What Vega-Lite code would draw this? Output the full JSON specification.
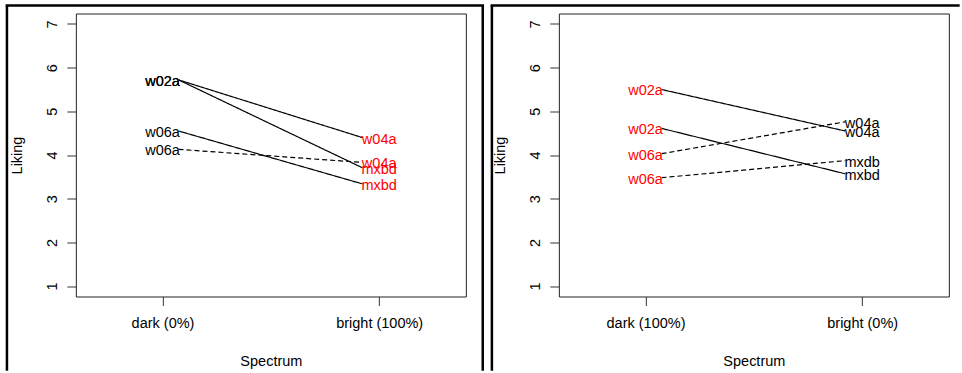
{
  "$schema": "https://vega.github.io/schema/vega-lite/v6.json",
  "padding": {"left": 3.85, "top": 3.5, "right": 0, "bottom": 0},
  "autosize": {"type": "pad"},
  "spacing": 3,
  "config": {
    "font": "Liberation Sans",
    "view": {"stroke": "#222222", "strokeWidth": 1},
    "axis": {
      "tickSize": 9,
      "tickColor": "#333333",
      "tickWidth": 1,
      "domain": false,
      "grid": false,
      "labelFontSize": 14.5,
      "labelColor": "#000000",
      "labelFlush": false,
      "labelOverlap": false,
      "titleFontSize": 14.5,
      "titleFontWeight": "normal",
      "titleColor": "#000000"
    }
  },
  "datasets": {
    "rows": [
      {"panel": "A", "pair": "A1", "grp": "g1", "level": "dark", "pct": "0%", "label": "w02a", "liking": 5.72},
      {"panel": "A", "pair": "A1", "grp": "g1", "level": "bright", "pct": "100%", "label": "w04a", "liking": 4.40},
      {"panel": "A", "pair": "A2", "grp": "g1", "level": "dark", "pct": "0%", "label": "w02a", "liking": 5.72},
      {"panel": "A", "pair": "A2", "grp": "g1", "level": "bright", "pct": "100%", "label": "mxbd", "liking": 3.71},
      {"panel": "A", "pair": "A3", "grp": "g1", "level": "dark", "pct": "0%", "label": "w06a", "liking": 4.55},
      {"panel": "A", "pair": "A3", "grp": "g1", "level": "bright", "pct": "100%", "label": "mxbd", "liking": 3.34},
      {"panel": "A", "pair": "A4", "grp": "g2", "level": "dark", "pct": "0%", "label": "w06a", "liking": 4.13},
      {"panel": "A", "pair": "A4", "grp": "g2", "level": "bright", "pct": "100%", "label": "w04a", "liking": 3.83},
      {"panel": "B", "pair": "B1", "grp": "g1", "level": "dark", "pct": "100%", "label": "w02a", "liking": 5.50},
      {"panel": "B", "pair": "B1", "grp": "g1", "level": "bright", "pct": "0%", "label": "w04a", "liking": 4.55},
      {"panel": "B", "pair": "B2", "grp": "g1", "level": "dark", "pct": "100%", "label": "w02a", "liking": 4.61},
      {"panel": "B", "pair": "B2", "grp": "g1", "level": "bright", "pct": "0%", "label": "mxbd", "liking": 3.57},
      {"panel": "B", "pair": "B3", "grp": "g2", "level": "dark", "pct": "100%", "label": "w06a", "liking": 4.03},
      {"panel": "B", "pair": "B3", "grp": "g2", "level": "bright", "pct": "0%", "label": "w04a", "liking": 4.76},
      {"panel": "B", "pair": "B4", "grp": "g2", "level": "dark", "pct": "100%", "label": "w06a", "liking": 3.48},
      {"panel": "B", "pair": "B4", "grp": "g2", "level": "bright", "pct": "0%", "label": "mxdb", "liking": 3.87}
    ]
  },
  "hconcat": [
    {
      "width": 390,
      "height": 283,
      "resolve": {"scale": {"x": "independent"}, "axis": {"x": "independent"}},
      "layer": [
        {
          "data": {"name": "rows"},
          "transform": [{"filter": "datum.panel === 'A'"}],
          "encoding": {
            "x": {
              "field": "level", "type": "ordinal",
              "scale": {"type": "point", "domain": ["dark", "bright"], "padding": 0.4},
              "axis": {"title": "Spectrum", "labelExpr": "datum.value == 'dark' ? 'dark (0%)' : 'bright (100%)'", "labelAngle": 0, "labelPadding": 11, "labelBaseline": "top", "titlePadding": 25}
            },
            "y": {
              "field": "liking", "type": "quantitative",
              "scale": {"domain": [0.76, 7.24], "nice": false, "zero": false},
              "axis": {"values": [1, 2, 3, 4, 5, 6, 7], "title": "Liking", "format": "d", "labelAngle": 270, "labelAlign": "center", "labelBaseline": "middle", "labelPadding": 14, "titlePadding": 20}
            }
          },
          "layer": [
            {
              "mark": {"type": "line", "color": "#000000", "strokeWidth": 1.2},
              "encoding": {
                "xOffset": {"field": "level", "type": "nominal", "scale": {"type": "point", "domain": ["dark", "bright"], "range": [16, -17], "padding": 0}},
                "detail": {"field": "pair"},
                "strokeDash": {"field": "grp", "type": "nominal", "scale": {"domain": ["g1", "g2"], "range": [[1, 0], [5, 3]]}, "legend": null}
              }
            },
            {
              "mark": {"type": "text", "fontSize": 14.5, "baseline": "middle", "align": "center", "dy": 2},
              "encoding": {
                "text": {"field": "label"},
                "color": {"field": "pct", "type": "nominal", "scale": {"domain": ["0%", "100%"], "range": ["#000000", "#ff0000"]}, "legend": null}
              }
            }
          ]
        },
        {
          "data": {"values": [{}]},
          "mark": {"type": "rule", "clip": false, "color": "#000000", "strokeWidth": 2.5},
          "encoding": {
            "x": {"datum": 0.282, "scale": {"domain": [0.6, 2.4], "nice": false, "zero": false}, "axis": null},
            "y": {"datum": 7.423},
            "y2": {"datum": -0.94}
          }
        },
        {
          "data": {"values": [{}]},
          "mark": {"type": "rule", "clip": false, "color": "#000000", "strokeWidth": 2.5},
          "encoding": {
            "x": {"datum": 2.478, "scale": {"domain": [0.6, 2.4], "nice": false, "zero": false}, "axis": null},
            "y": {"datum": 7.423},
            "y2": {"datum": -0.94}
          }
        },
        {
          "data": {"values": [{}]},
          "mark": {"type": "rule", "clip": false, "color": "#000000", "strokeWidth": 2.5},
          "encoding": {
            "x": {"datum": 0.276, "scale": {"domain": [0.6, 2.4], "nice": false, "zero": false}, "axis": null},
            "x2": {"datum": 2.484},
            "y": {"datum": 7.423}
          }
        }
      ]
    },
    {
      "width": 390,
      "height": 283,
      "resolve": {"scale": {"x": "independent"}, "axis": {"x": "independent"}},
      "layer": [
        {
          "data": {"name": "rows"},
          "transform": [{"filter": "datum.panel === 'B'"}],
          "encoding": {
            "x": {
              "field": "level", "type": "ordinal",
              "scale": {"type": "point", "domain": ["dark", "bright"], "padding": 0.4},
              "axis": {"title": "Spectrum", "labelExpr": "datum.value == 'dark' ? 'dark (100%)' : 'bright (0%)'", "labelAngle": 0, "labelPadding": 11, "labelBaseline": "top", "titlePadding": 25}
            },
            "y": {
              "field": "liking", "type": "quantitative",
              "scale": {"domain": [0.76, 7.24], "nice": false, "zero": false},
              "axis": {"values": [1, 2, 3, 4, 5, 6, 7], "title": "Liking", "format": "d", "labelAngle": 270, "labelAlign": "center", "labelBaseline": "middle", "labelPadding": 14, "titlePadding": 20}
            }
          },
          "layer": [
            {
              "mark": {"type": "line", "color": "#000000", "strokeWidth": 1.2},
              "encoding": {
                "xOffset": {"field": "level", "type": "nominal", "scale": {"type": "point", "domain": ["dark", "bright"], "range": [16, -17], "padding": 0}},
                "detail": {"field": "pair"},
                "strokeDash": {"field": "grp", "type": "nominal", "scale": {"domain": ["g1", "g2"], "range": [[1, 0], [5, 3]]}, "legend": null}
              }
            },
            {
              "mark": {"type": "text", "fontSize": 14.5, "baseline": "middle", "align": "center", "dy": 2},
              "encoding": {
                "text": {"field": "label"},
                "color": {"field": "pct", "type": "nominal", "scale": {"domain": ["0%", "100%"], "range": ["#000000", "#ff0000"]}, "legend": null}
              }
            }
          ]
        },
        {
          "data": {"values": [{}]},
          "mark": {"type": "rule", "clip": false, "color": "#000000", "strokeWidth": 2.5},
          "encoding": {
            "x": {"datum": 0.291, "scale": {"domain": [0.6, 2.4], "nice": false, "zero": false}, "axis": null},
            "y": {"datum": 7.423},
            "y2": {"datum": -0.94}
          }
        },
        {
          "data": {"values": [{}]},
          "mark": {"type": "rule", "clip": false, "color": "#000000", "strokeWidth": 2.5},
          "encoding": {
            "x": {"datum": 0.285, "scale": {"domain": [0.6, 2.4], "nice": false, "zero": false}, "axis": null},
            "x2": {"datum": 2.45},
            "y": {"datum": 7.423}
          }
        }
      ]
    }
  ]
}
